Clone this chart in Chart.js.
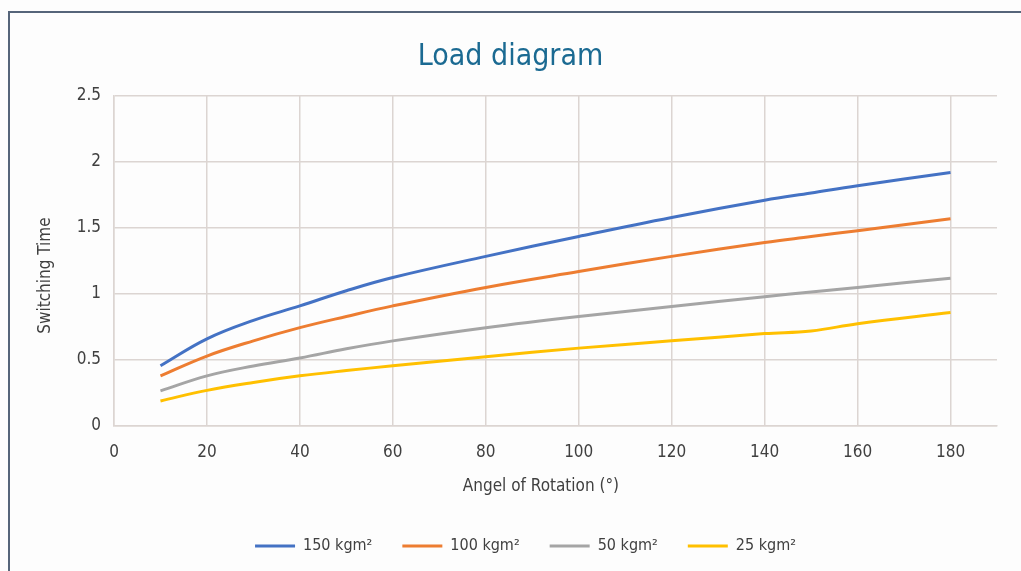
<!DOCTYPE html>
<html>
<head>
<meta charset="utf-8">
<script src="https://cdn.jsdelivr.net/npm/chart.js@4"></script>
<style>
  html, body { margin: 0; padding: 0; background: #fdfdfd; }
  #wrap { position: relative; width: 1021px; height: 571px; overflow: hidden; }
  #frame { position: absolute; left: 8px; top: 11px; width: 1100px; height: 700px;
           border-left: 2px solid #56657a; border-top: 2px solid #56657a; box-sizing: border-box; }
  canvas { position: absolute; left: 0; top: 0; }
</style>
</head>
<body>
<div id="wrap">
  <div id="frame"></div>
  <canvas id="c" width="1021" height="571"></canvas>
</div>
<script>
const angles = [10, 20, 30, 40, 50, 60, 80, 100, 120, 140, 150, 160, 180];
const s150 = [0.456, 0.66, 0.80, 0.91, 1.025, 1.125, 1.285, 1.436, 1.58, 1.71, 1.765, 1.82, 1.92];
const s100 = [0.38, 0.53, 0.645, 0.745, 0.83, 0.91, 1.05, 1.17, 1.285, 1.39, 1.435, 1.48, 1.57];
const s50  = [0.266, 0.38, 0.455, 0.515, 0.585, 0.645, 0.745, 0.83, 0.905, 0.98, 1.015, 1.05, 1.12];
const s25  = [0.19, 0.27, 0.33, 0.38, 0.42, 0.456, 0.525, 0.59, 0.645, 0.70, 0.72, 0.775, 0.86];
const seriesLabels = ['150 kgm²', '100 kgm²', '50 kgm²', '25 kgm²'];
const seriesColors = ['#4472c4', '#ed7d31', '#a5a5a5', '#ffc000'];
const xTicks = [0, 20, 40, 60, 80, 100, 120, 140, 160, 180];
const yTicks = [0, 0.5, 1, 1.5, 2, 2.5];
const yTickLabels = ['0', '0.5', '1', '1.5', '2', '2.5'];

const FONT = "'Liberation Sans Narrow', 'DejaVu Sans Condensed', 'Roboto Condensed', sans-serif";
const GRID = '#dcd5d2';
const TXT = '#404040';

function pts(arr) { return angles.map((a, i) => ({ x: a, y: arr[i] })); }
const allSeries = [s150, s100, s50, s25];

const legendShift = {
  id: 'legendShift',
  afterLayout(chart) {
    if (chart.legend) { chart.legend.left += 15; chart.legend.right += 15; }
  }
};

new Chart(document.getElementById('c'), {
  type: 'line',
  data: {
    datasets: allSeries.map((s, i) => ({
      label: seriesLabels[i],
      data: pts(s),
      borderColor: seriesColors[i],
      backgroundColor: seriesColors[i],
      borderWidth: 3,
      pointRadius: 0,
      tension: 0.4,
      fill: false,
      yAxisID: 'y'
    }))
  },
  plugins: [legendShift],
  options: {
    responsive: false,
    animation: false,
    layout: { padding: { left: 0, right: 0, top: 0, bottom: 7 } },
    plugins: {
      title: {
        display: true,
        text: 'Load diagram',
        color: '#1b6a92',
        font: { family: FONT, size: 30, weight: 'normal' },
        padding: { top: 39, bottom: 21 }
      },
      legend: {
        position: 'bottom',
        labels: {
          usePointStyle: true,
          pointStyle: 'line',
          pointStyleWidth: 40,
          color: TXT,
          font: { family: FONT, size: 16 },
          padding: 30
        }
      },
      tooltip: { enabled: false }
    },
    scales: {
      x: {
        type: 'linear',
        min: 0, max: 190,
        afterBuildTicks: (s) => { s.ticks = xTicks.map(v => ({ value: v })); },
        afterFit: (s) => { s.height = 82; },
        ticks: { color: TXT, font: { family: FONT, size: 17 }, padding: 16, maxRotation: 0 },
        grid: { color: GRID, lineWidth: 1.5, drawTicks: false },
        border: { color: GRID, width: 1.5 },
        title: { display: true, text: 'Angel of Rotation (°)' + '\u00A0'.repeat(6), color: TXT,
                 font: { family: FONT, size: 17 }, padding: { top: 6, bottom: 11 } }
      },
      y: {
        min: 0, max: 2.5,
        afterBuildTicks: (s) => { s.ticks = yTicks.map(v => ({ value: v })); },
        afterFit: (s) => { s.width = 114; },
        ticks: { color: TXT, font: { family: FONT, size: 17 }, padding: 13,
                 callback: (v) => yTickLabels[yTicks.indexOf(v)] },
        grid: { color: GRID, lineWidth: 1.5, drawTicks: false },
        border: { color: GRID, width: 1.5 },
        title: { display: true, text: 'Switching Time' + '\u00A0'.repeat(6), color: TXT,
                 font: { family: FONT, size: 17 }, padding: { top: 35, bottom: 0 } }
      },
      yRightSpace: {
        type: 'linear',
        position: 'right',
        min: 0, max: 1,
        afterFit: (s) => { s.width = 24; },
        ticks: { display: false },
        grid: { display: false, drawTicks: false },
        border: { display: false }
      }
    }
  }
});
</script>
</body>
</html>
